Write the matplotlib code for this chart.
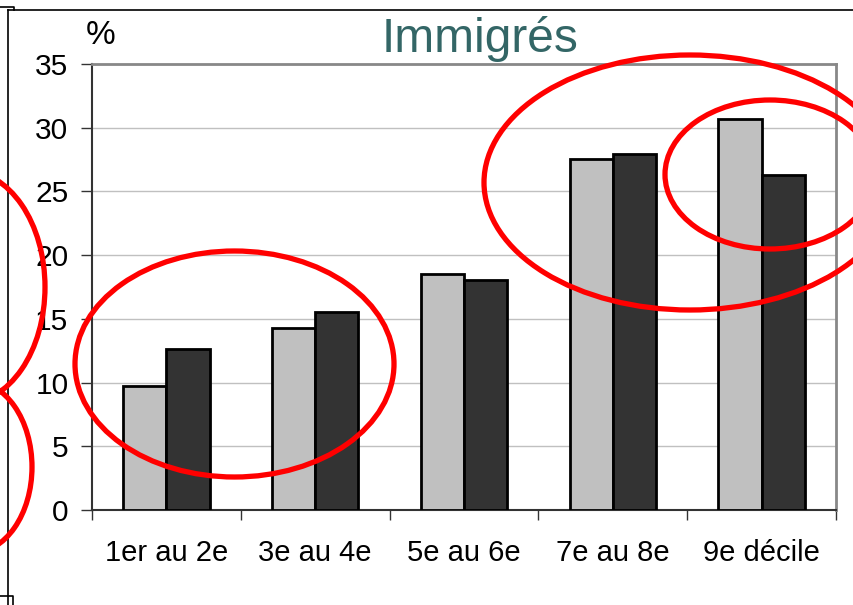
import matplotlib
matplotlib.use("Agg")
import matplotlib.pyplot as plt
import matplotlib.transforms as mtransforms
from matplotlib.patches import Ellipse
from matplotlib.lines import Line2D
import numpy as np

plt.rcParams['font.family'] = ['Liberation Sans', 'DejaVu Sans']

categories = ["1er au 2e", "3e au 4e", "5e au 6e", "7e au 8e", "9e décile"]
series_light = [9.7, 14.3, 18.5, 27.55, 30.7]
series_dark = [12.6, 15.55, 18.05, 27.95, 26.3]
yticks = [0, 5, 10, 15, 20, 25, 30, 35]
title = "Immigrés"
ylabel = "%"

W, H = 854, 605
fig = plt.figure(figsize=(W / 100, H / 100), dpi=100)
ax = fig.add_axes([92 / W, 1 - 510 / H, (836 - 92) / W, (510 - 64) / H])

x = np.arange(len(categories))
bw = 0.29
ax.bar(x - bw / 2, series_light, bw, color='#c0c0c0', edgecolor='black', linewidth=2.0, zorder=3)
ax.bar(x + bw / 2, series_dark, bw, color='#333333', edgecolor='black', linewidth=2.0, zorder=3)

ax.set_xlim(-0.5, len(categories) - 0.5)
ax.set_ylim(0, 35)
ax.set_yticks(yticks)
ax.set_yticklabels([str(v) for v in yticks], fontsize=21.5)
ax.yaxis.grid(True, color='#c0c0c0', linewidth=1.0, zorder=0)
ax.set_axisbelow(True)

ax.set_xticks(x)
ax.set_xticklabels(categories, fontsize=21)
ax.tick_params(axis='x', which='major', length=0, pad=21)
ax.set_xticks(np.arange(-0.5, len(categories)), minor=True)
ax.tick_params(axis='x', which='minor', length=7, width=1.0, direction='out', color='#333333')
ax.tick_params(axis='y', length=8, width=1.0, direction='out', pad=9, color='#333333')

for s in ['left', 'bottom']:
    ax.spines[s].set_color('#333333')
    ax.spines[s].set_linewidth(1.5)
for s in ['top', 'right']:
    ax.spines[s].set_color('#888888')
    ax.spines[s].set_linewidth(2.0)

# pixel-coordinate transform (origin top-left)
pix = mtransforms.Affine2D().scale(1, -1).translate(0, H).scale(1 / W, 1 / H) + fig.transFigure

fig.text(480 / W, 1 - 52 / H, title, ha='center', va='baseline', fontsize=34.5, color='#336666')
fig.text(101 / W, 1 - 44 / H, ylabel, ha='center', va='baseline', fontsize=24, color='black')

# outer frame lines
frame_kw = dict(color='black', linewidth=1.2, transform=pix)
fig.add_artist(Line2D([8, W], [10, 10], **frame_kw))
fig.add_artist(Line2D([8, 8], [10, H], **frame_kw))
fig.add_artist(Line2D([0, 14, 14], [7, 7, 10], **frame_kw))
fig.add_artist(Line2D([0, 13, 13], [596, 596, H], **frame_kw))

# red annotation ellipses (pixel coords)
ellipses = [
    ((234.5, 364), 319, 226),
    ((690, 182.5), 412, 255),
    ((770, 174.5), 210, 149),
    ((-35, 287), 160, 233),
    ((-28, 467), 120, 172),
]
for (cx, cy), w, h in ellipses:
    e = Ellipse((cx, cy), w, h, transform=pix, fill=False, edgecolor='#ff0000', linewidth=3.8, zorder=10)
    fig.add_artist(e)

fig.savefig("out.png", dpi=100)
